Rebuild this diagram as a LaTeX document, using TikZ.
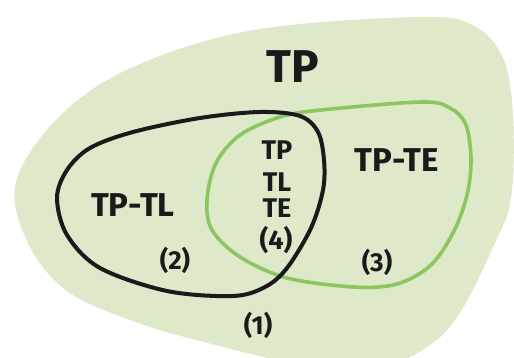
\documentclass[tikz,border=0pt]{standalone}
\usepackage{fontspec}
\setmainfont{Fira Sans}
\definecolor{blobfill}{HTML}{DDE9C9}
\definecolor{telines}{HTML}{8DC660}
\definecolor{ink}{HTML}{1A1A1A}
\tikzset{
  region/.style={line join=round},
  lbl/.style={text=ink, inner sep=0pt, align=center},
}
\begin{document}
\begin{tikzpicture}[x=1pt,y=-1pt]
\useasboundingbox (0,0) rectangle (514,358);
\fill[white] (0,0) rectangle (514,358);
% outer set TP
\begin{scope}
\clip (0,0) rectangle (514,358);
\fill[blobfill] plot[smooth cycle, tension=0.6] coordinates {
  (16,182) (60,116) (133,67) (254,30) (421,17) (474,26) (503,58)
  (513,115) (511,198) (494,245) (461,311) (430,345) (380,366)
  (300,364) (200,341) (133,321) (67,291) (28,243)};
\end{scope}
% set TE
\draw[region, telines, line width=3.6pt] plot[smooth cycle, tension=0.55] coordinates {
  (207,200) (216,163) (240,135) (280,117) (321,110) (421,102) (450,108)
  (466,125) (471,160) (467,195) (454,231) (431,265) (397,284) (354,287)
  (287,278) (240,257) (212,230)};
% set TL
\draw[region, ink, line width=4pt] plot[smooth cycle, tension=0.55] coordinates {
  (260,112) (300,116) (318,132) (324,160) (323,190) (311,228) (287,268)
  (265,287) (233,296) (167,291) (100,268) (67,235) (57,198) (67,170)
  (90,148) (133,132) (200,118)};
% labels
\node[lbl, font=\bfseries\fontsize{46}{50}\selectfont] (tp) at (293,67) {TP};
\node[lbl, font=\bfseries\fontsize{33}{38}\selectfont] (tptl) at (133,205) {TP-TL};
\node[lbl, font=\bfseries\fontsize{33}{38}\selectfont] (tpte) at (397,160) {TP-TE};
\node[lbl, font=\bfseries\fontsize{27}{30}\selectfont] (s1) at (277,150) {TP};
\node[lbl, font=\bfseries\fontsize{27}{30}\selectfont] (s2) at (277,182) {TL};
\node[lbl, font=\bfseries\fontsize{27}{30}\selectfont] (s3) at (277,208) {TE};
\node[lbl, font=\bfseries\fontsize{27}{28}\selectfont] (n4) at (276,240) {(4)};
\node[lbl, font=\bfseries\fontsize{26}{28}\selectfont] (n2) at (175,260) {(2)};
\node[lbl, font=\bfseries\fontsize{26}{28}\selectfont] (n3) at (377,262) {(3)};
\node[lbl, font=\bfseries\fontsize{26}{28}\selectfont] (n1) at (258,325) {(1)};
\end{tikzpicture}
\end{document}
